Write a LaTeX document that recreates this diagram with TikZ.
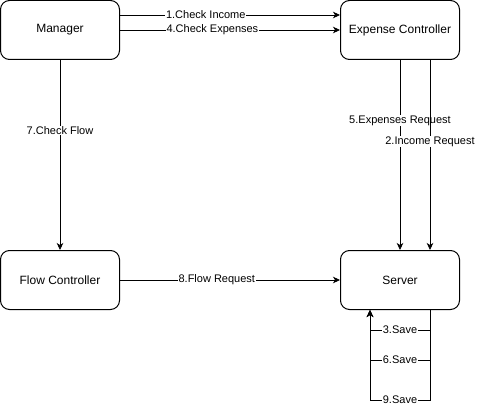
\documentclass[tikz,border=0pt]{standalone}
\usepackage{fontspec}
\setmainfont{Liberation Sans}
\usetikzlibrary{arrows.meta}
\tikzset{
    box/.style={draw, line width=1pt, rounded corners=9pt, minimum width=119pt, minimum height=59pt, font=\fontsize{12}{14}\selectfont},
    flow/.style={-{Stealth[length=7pt,width=6.5pt,inset=2pt]}, line width=0.8pt},
    lbl/.style={fill=white, inner sep=0.6pt, font=\fontsize{11}{13}\selectfont}
}
\begin{document}
\begin{tikzpicture}[x=1pt,y=-1pt]
    \useasboundingbox (0,0) rectangle (477,409);
    \node[box] (manager) at (60,30) {Manager};
    \node[box] (expense) at (400,30) {Expense Controller};
    \node[box] (flowctl) at (60,280) {Flow Controller};
    \node[box] (server) at (400,280) {Server};
    % manager to expense controller
    \draw[flow] ([yshift=15pt]manager.east) -- node[lbl,pos=0.39] {1.Check Income} ([yshift=15pt]expense.west);
    \draw[flow] (manager.east) -- node[lbl,pos=0.42] {4.Check Expenses} (expense.west);
    % expense controller to server
    \draw[flow] (expense.south) -- node[lbl,pos=0.32] {5.Expenses Request} (server.north);
    \draw[flow] ([xshift=30pt]expense.south) -- node[lbl,pos=0.43] {2.Income Request} ([xshift=30pt]server.north);
    % flow
    \draw[flow] (manager.south) -- node[lbl,pos=0.37] {7.Check Flow} (flowctl.north);
    \draw[flow] (flowctl.east) -- node[lbl,pos=0.44] {8.Flow Request} (server.west);
    % saves
    \foreach \d/\t in {20/3.Save,50/6.Save,90/9.Save}
        \draw[flow] ([xshift=30pt]server.south) -- ++(0,\d) -| node[lbl,pos=0.25] {\t} ([xshift=-30pt]server.south);
\end{tikzpicture}
\end{document}
